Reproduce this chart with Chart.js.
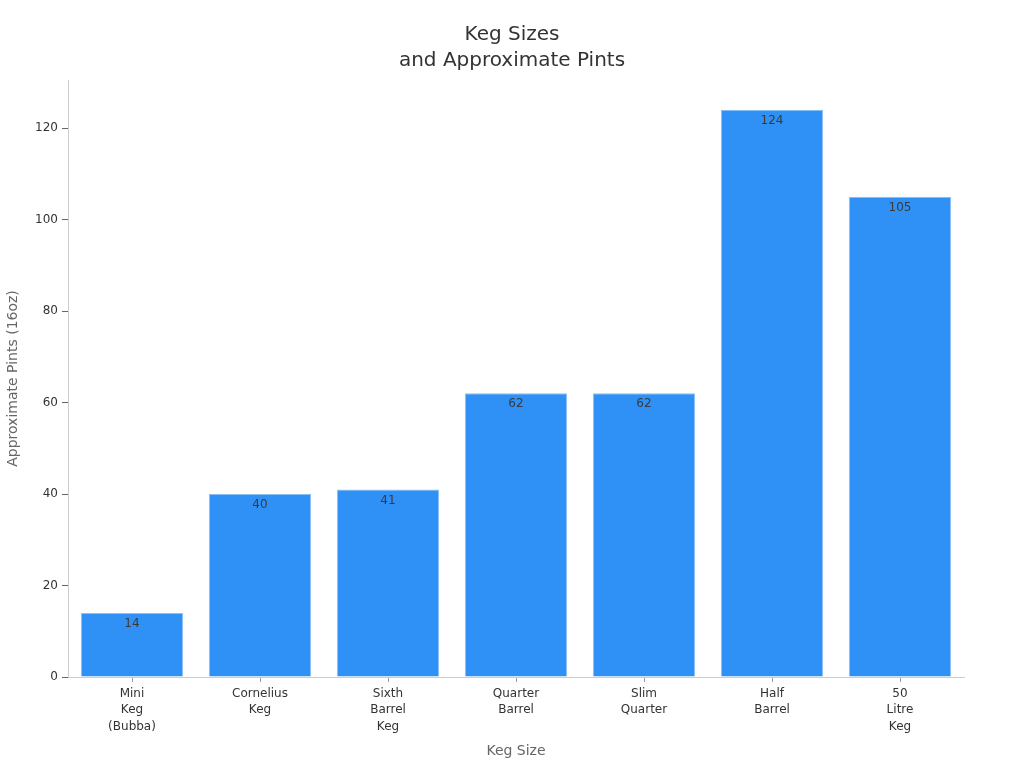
<!DOCTYPE html>
<html>
<head>
<meta charset="utf-8">
<script src="https://cdn.jsdelivr.net/npm/chart.js@4/dist/chart.umd.min.js"></script>
<style>
  html, body { margin: 0; padding: 0; background: #fff; }
  #wrap { width: 1024px; height: 768px; }
</style>
</head>
<body>
<div id="wrap"><canvas id="grafico"></canvas></div>
<script>
// dados
const kegNames = [
    ['Mini', 'Keg', '(Bubba)'],
    ['Cornelius', 'Keg'],
    ['Sixth', 'Barrel', 'Keg'],
    ['Quarter', 'Barrel'],
    ['Slim', 'Quarter'],
    ['Half', 'Barrel'],
    ['50', 'Litre', 'Keg']
];
const pints = [14, 40, 41, 62, 62, 124, 105];
const yTicks = [0, 20, 40, 60, 80, 100, 120];

// rotulos de valor dentro do topo das barras
const rotulosBarras = {
    id: 'rotulosBarras',
    afterDatasetsDraw(chart) {
        const ctx = chart.ctx;
        const meta = chart.getDatasetMeta(0);
        ctx.save();
        ctx.font = '12px "DejaVu Sans"';
        ctx.fillStyle = '#3a3a3a';
        ctx.textAlign = 'center';
        ctx.textBaseline = 'middle';
        meta.data.forEach((bar, i) => {
            ctx.fillText(String(pints[i]), bar.x, bar.y + 11);
        });
        ctx.restore();
    }
};

Chart.defaults.font.family = '"DejaVu Sans", sans-serif';
Chart.defaults.color = '#333';

const ctx = document.getElementById('grafico').getContext('2d');
new Chart(ctx, {
    type: 'bar',
    data: {
        labels: kegNames,
        datasets: [{
            data: pints,
            backgroundColor: '#2f91f6',
            borderColor: '#8cc0f2',
            borderWidth: 1,
            barPercentage: 0.8,
            categoryPercentage: 1.0
        }]
    },
    options: {
        responsive: true,
        maintainAspectRatio: false,
        animation: false,
        layout: { padding: 0 },
        plugins: {
            legend: { display: false },
            tooltip: { enabled: false },
            title: {
                display: true,
                text: ['Keg Sizes', 'and Approximate Pints'],
                color: '#333',
                font: { size: 20, weight: 'normal', lineHeight: 1.3 },
                padding: { top: 22, bottom: 6 }
            }
        },
        scales: {
            x: {
                grid: { drawOnChartArea: false, drawTicks: true, tickLength: 5, color: '#999', offset: false },
                border: { display: true, color: '#ccc' },
                ticks: {
                    color: '#333',
                    font: { size: 12, lineHeight: 1.35 },
                    padding: 4,
                    maxRotation: 0
                },
                title: {
                    display: true,
                    text: 'Keg Size',
                    color: '#666',
                    font: { size: 14 },
                    padding: { top: 9, bottom: 8 }
                },
                afterFit(scale) { scale.height = 91; }
            },
            y: {
                min: 0,
                max: 130.5,
                afterBuildTicks(scale) {
                    scale.ticks = yTicks.map(v => ({ value: v }));
                },
                grid: { drawOnChartArea: false, drawTicks: true, tickLength: 6, color: '#666' },
                border: { display: true, color: '#ccc' },
                ticks: {
                    color: '#333',
                    font: { size: 12 },
                    padding: 4
                },
                title: {
                    display: true,
                    text: 'Approximate Pints (16oz)',
                    color: '#666',
                    font: { size: 14 },
                    padding: { top: 5, bottom: 8 }
                },
                afterFit(scale) { scale.width = 68; }
            },
            // eixo vazio a direita so para reservar espaco
            vazio: {
                position: 'right',
                display: true,
                grid: { display: false },
                border: { display: false },
                ticks: { display: false },
                afterFit(scale) { scale.width = 60; }
            }
        }
    },
    plugins: [rotulosBarras]
});
</script>
</body>
</html>
